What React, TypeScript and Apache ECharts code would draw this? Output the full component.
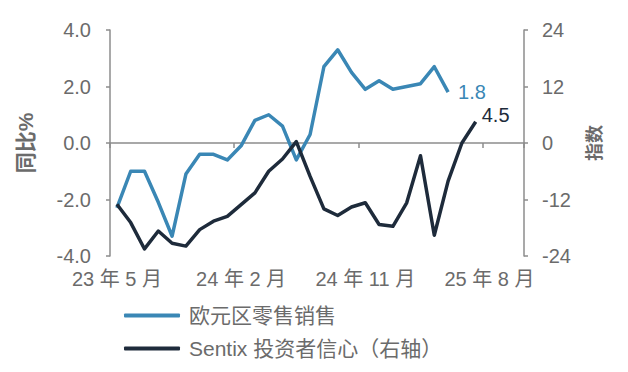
import React, { useEffect, useRef } from "react";
import * as echarts from "echarts";

const categories = [
  "23 年 5 月", "23 年 6 月", "23 年 7 月", "23 年 8 月", "23 年 9 月", "23 年 10 月", "23 年 11 月", "23 年 12 月",
  "24 年 1 月", "24 年 2 月", "24 年 3 月", "24 年 4 月", "24 年 5 月", "24 年 6 月", "24 年 7 月", "24 年 8 月",
  "24 年 9 月", "24 年 10 月", "24 年 11 月", "24 年 12 月", "25 年 1 月", "25 年 2 月", "25 年 3 月", "25 年 4 月",
  "25 年 5 月", "25 年 6 月", "25 年 7 月", "25 年 8 月", "25 年 9 月", "25 年 10 月",
];

const retailSales = [
  -2.3, -1.0, -1.0, -2.1, -3.3, -1.1, -0.4, -0.4, -0.6, -0.1, 0.8, 1.0, 0.6, -0.6, 0.3,
  2.7, 3.3, 2.5, 1.9, 2.2, 1.9, 2.0, 2.1, 2.7, 1.8,
];

const sentix = [
  -13.0, -16.9, -22.5, -18.7, -21.3, -21.9, -18.4, -16.6, -15.6, -13.1, -10.6, -6.0, -3.4, 0.3,
  -7.1, -14.0, -15.4, -13.6, -12.7, -17.3, -17.7, -12.7, -2.7, -19.6, -8.1, 0.0, 4.5,
];

const seriesNames = ["欧元区零售销售", "Sentix 投资者信心（右轴）"];
const leftAxisName = "同比%";
const rightAxisName = "指数";

const BLUE = "#3A87B5";
const NAVY = "#1E2B3B";
const AXIS = "#8C8C8C";
const TEXT = "#6B6B6B";
const FONT = "'Liberation Sans', Arial, 'Noto Sans CJK SC', sans-serif";

export default function App() {
  const ref = useRef<HTMLDivElement>(null);
  useEffect(() => {
    if (!ref.current) return;
    const chart = echarts.init(ref.current, null, { renderer: "svg" });
    chart.setOption({
      animation: false,
      backgroundColor: "#ffffff",
      textStyle: { fontFamily: FONT },
      grid: { left: 110, right: 104, top: 30, bottom: 116, containLabel: false },
      legend: {
        orient: "vertical",
        left: 119,
        top: 300,
        itemWidth: 56,
        itemHeight: 4,
        itemGap: 12,
        icon: "roundRect",
        textStyle: { fontSize: 21, color: TEXT, fontFamily: FONT, padding: [0, 0, 0, 4] },
        data: seriesNames,
      },
      xAxis: [
        {
          type: "category",
          data: categories,
          position: "bottom",
          boundaryGap: true,
          axisLine: { show: false, onZero: false },
          axisTick: { show: false },
          axisLabel: {
            interval: 8,
            color: TEXT,
            fontSize: 20,
            margin: 13,
            fontFamily: FONT,
          },
          splitLine: { show: false },
        },
        {
          type: "category",
          data: categories,
          position: "bottom",
          boundaryGap: true,
          axisLine: { show: true, onZero: true, onZeroAxisIndex: 0, lineStyle: { color: AXIS, width: 1.5 } },
          axisTick: { show: true, interval: 8, length: 5, lineStyle: { color: AXIS, width: 1.5 } },
          axisLabel: { show: false },
          splitLine: { show: false },
        },
      ],
      yAxis: [
        {
          type: "value",
          min: -4,
          max: 4,
          interval: 2,
          position: "left",
          name: leftAxisName,
          nameLocation: "middle",
          nameGap: 74,
          nameRotate: 90,
          nameTextStyle: { color: TEXT, fontSize: 21, fontWeight: "bold", fontFamily: FONT },
          axisLine: { show: true, onZero: false, lineStyle: { color: AXIS, width: 1.5 } },
          axisTick: { show: true, length: 4, lineStyle: { color: AXIS, width: 1.5 } },
          axisLabel: {
            color: TEXT,
            fontSize: 20,
            margin: 19,
            fontFamily: FONT,
            formatter: (v: number) => v.toFixed(1),
          },
          splitLine: { show: false },
        },
        {
          type: "value",
          min: -24,
          max: 24,
          interval: 12,
          position: "right",
          name: rightAxisName,
          nameLocation: "middle",
          nameGap: 62,
          nameRotate: 90,
          nameTextStyle: { color: TEXT, fontSize: 18, fontWeight: "bold", fontFamily: FONT },
          axisLine: { show: true, onZero: false, lineStyle: { color: AXIS, width: 1.5 } },
          axisTick: { show: true, length: 4, lineStyle: { color: AXIS, width: 1.5 } },
          axisLabel: { color: TEXT, fontSize: 20, margin: 18, fontFamily: FONT },
          splitLine: { show: false },
        },
      ],
      series: [
        {
          name: seriesNames[0],
          type: "line",
          xAxisIndex: 0,
          yAxisIndex: 0,
          data: retailSales,
          symbol: "none",
          smooth: false,
          lineStyle: { color: BLUE, width: 3.5, join: "round" },
          itemStyle: { color: BLUE },
          endLabel: {
            show: true,
            formatter: (p: any) => Number(p.value).toFixed(1),
            color: BLUE,
            fontSize: 20,
            distance: 10,
            fontFamily: FONT,
          },
          z: 3,
        },
        {
          name: seriesNames[1],
          type: "line",
          xAxisIndex: 0,
          yAxisIndex: 1,
          data: sentix,
          symbol: "none",
          smooth: false,
          lineStyle: { color: NAVY, width: 3.5, join: "round" },
          itemStyle: { color: NAVY },
          endLabel: {
            show: true,
            formatter: (p: any) => Number(p.value).toFixed(1),
            color: NAVY,
            fontSize: 20,
            distance: 6,
            offset: [0, -7],
            fontFamily: FONT,
          },
          z: 4,
        },
      ],
    });
    return () => chart.dispose();
  }, []);
  return (
    <div
      ref={ref}
      style={{ position: "fixed", left: 0, top: 0, width: 628, height: 372, background: "#fff" }}
    />
  );
}
